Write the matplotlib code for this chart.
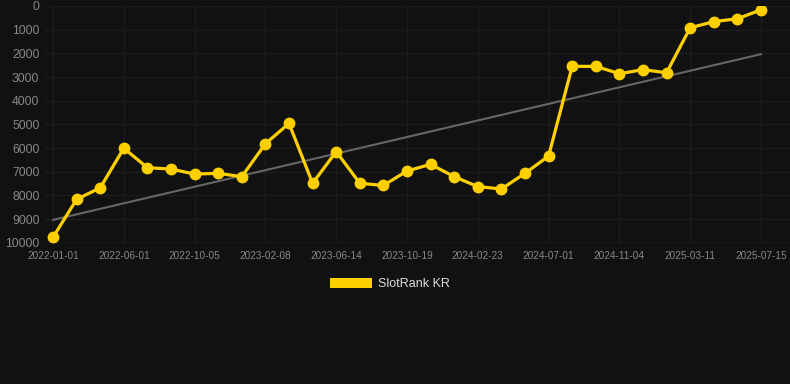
import numpy as np
import matplotlib
matplotlib.use('Agg')
import matplotlib.pyplot as plt
from matplotlib.patches import Patch

plt.rcParams['font.family'] = ['Liberation Sans', 'DejaVu Sans']

# rank values, one point per period
rank = [9770, 8170, 7680, 6010, 6830, 6890, 7100, 7070, 7210, 5820,
        4960, 7490, 6150, 7490, 7580, 6970, 6690, 7210, 7630, 7730,
        7070, 6340, 2550, 2550, 2860, 2690, 2820, 920, 660, 540, 160]
tick_labels = ['2022-01-01', '2022-06-01', '2022-10-05', '2023-02-08',
               '2023-06-14', '2023-10-19', '2024-02-23', '2024-07-01',
               '2024-11-04', '2025-03-11', '2025-07-15']
y_ticks = [0, 1000, 2000, 3000, 4000, 5000, 6000, 7000, 8000, 9000, 10000]

bg = '#111111'
gold = '#FFD000'

x = np.arange(len(rank))
coef = np.polyfit(x, rank, 1)
trend = np.polyval(coef, x)

fig = plt.figure(figsize=(7.9, 3.84), dpi=100, facecolor=bg)
ax = fig.add_axes([45/790, 1-242.7/384, 1-45/790, (242.7-6)/384])
ax.set_facecolor(bg)

ax.plot(x, trend, color='#666666', lw=1.5, zorder=2)
ax.plot(x, rank, color=gold, lw=2.3, marker='o', markersize=7.5, zorder=3)

ax.set_ylim(10000, 0)
ax.set_xlim(-0.34, len(rank) - 1 + 1.23)
ax.set_yticks(y_ticks)
ax.set_xticks(x[::3])
ax.set_xticklabels(tick_labels)
ax.tick_params(axis='y', colors='#888888', labelsize=8.8, length=0, pad=4)
ax.tick_params(axis='x', colors='#888888', labelsize=7.2, length=0, pad=6)
ax.grid(True, color='#1c1c1c', lw=1)
ax.set_axisbelow(True)
for s in ax.spines.values():
    s.set_visible(False)
ax.axhline(10000, color='#2a2a2a', lw=1, zorder=1)

handles = [Patch(facecolor=gold, label='SlotRank KR')]
fig.legend(handles=handles, loc='center', bbox_to_anchor=(390/790, 1-284/384),
           frameon=False, labelcolor='#dddddd', fontsize=9,
           handlelength=3.3, handleheight=0.95, handletextpad=0.5)

fig.savefig('out.png', facecolor=bg)
